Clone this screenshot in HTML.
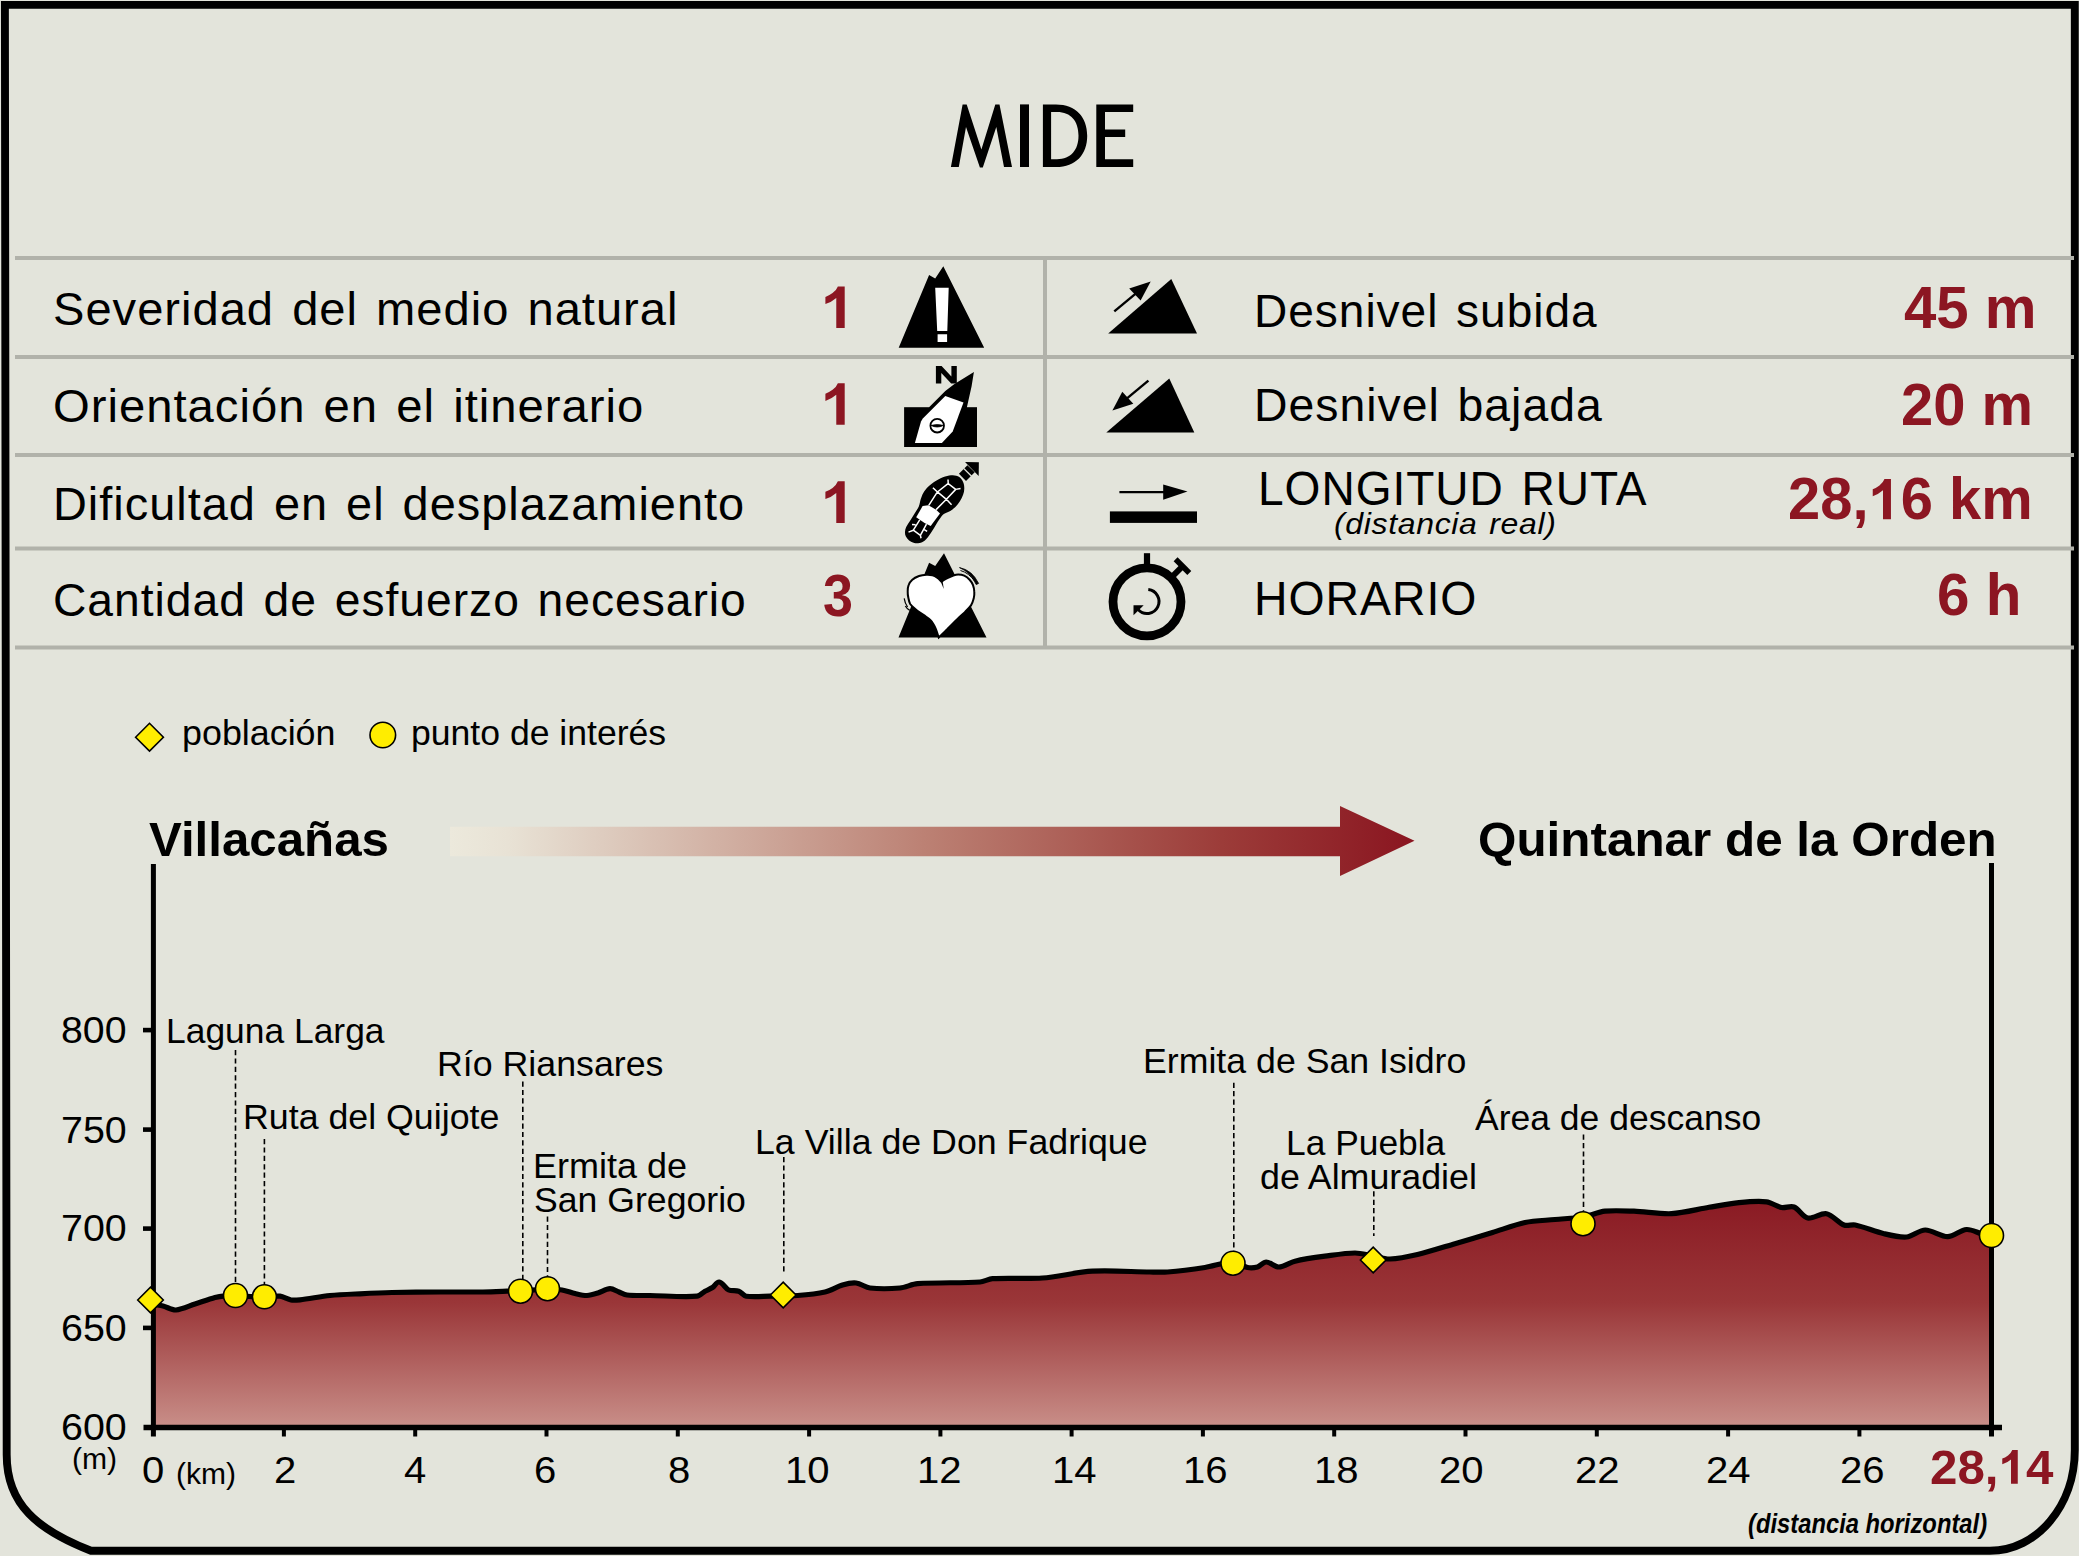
<!DOCTYPE html>
<html lang="es">
<head>
<meta charset="utf-8">
<title>MIDE</title>
<style>
html,body{margin:0;padding:0;}
body{width:2079px;height:1556px;overflow:hidden;background:#e3e4db;font-family:"Liberation Sans",sans-serif;color:#000;position:relative;}
#g{position:absolute;left:0;top:0;width:2079px;height:1556px;}
.t{position:absolute;white-space:nowrap;line-height:1;transform-origin:0 100%;}
</style>
</head>
<body>
<svg id="g" width="2079" height="1556" viewBox="0 0 2079 1556">
<defs>
<linearGradient id="gf" x1="0" y1="1200" x2="0" y2="1428" gradientUnits="userSpaceOnUse">
<stop offset="0" stop-color="#8a1a23"/>
<stop offset="0.45" stop-color="#9a3638"/>
<stop offset="1" stop-color="#c98f89"/>
</linearGradient>
<linearGradient id="ga" x1="450" y1="0" x2="1415" y2="0" gradientUnits="userSpaceOnUse">
<stop offset="0" stop-color="#ece9dc"/>
<stop offset="0.06" stop-color="#e8e2d5"/>
<stop offset="0.5" stop-color="#bb7f72"/>
<stop offset="0.8" stop-color="#9c3c39"/>
<stop offset="1" stop-color="#8a1520"/>
</linearGradient>
</defs>
<!-- FRAME -->
<path id="frame" d="M4.9,4.9 H2074.8 V1450 C2074.8,1505.7 2037,1550.8 1990,1550.8 H91 C38,1530 6.7,1505 6.7,1455 Z" fill="none" stroke="#000" stroke-width="7.9" stroke-linejoin="miter"/>
<!-- TABLE LINES -->
<g id="tlines" fill="#b1b2aa">
<rect x="15" y="256" width="2059" height="4"/>
<rect x="15" y="355" width="2059" height="4"/>
<rect x="15" y="453" width="2059" height="4"/>
<rect x="15" y="546.5" width="2059" height="4"/>
<rect x="15" y="645.5" width="2059" height="4"/>
<rect x="1043" y="258" width="4" height="390"/>
</g>
<!-- TITLE -->
<g id="title" fill="#000">
<path d="M950.9,167 L962.6,104.4 L966.7,104.4 L981.4,149.6 L995.3,104.4 L999.5,104.4 L1012,167 L1004,167 L996.3,127 L982.8,167.4 L979.9,167.4 L966,127 L958.8,167 Z"/>
<rect x="1020" y="104.4" width="9" height="62.6"/>
<path fill-rule="evenodd" d="M1042.9,104.4 H1056 C1076,104.4 1087.2,117 1087.2,135.7 C1087.2,154.4 1076,167 1056,167 H1042.9 Z M1051.1,111.9 V159.3 H1057 C1071,159.3 1078.5,150 1078.5,135.6 C1078.5,121.2 1071,111.9 1057,111.9 Z"/>
<path d="M1096.3,104.4 H1133.2 V111.9 H1105 V129.4 H1125.2 V136.9 H1105 V159.3 H1133.2 V167 H1096.3 Z"/>
</g>
<!-- ICONS -->
<g id="icons">
<path fill="#8c1622" d="M844.70,328.00 L836.28,328.00 L836.28,298.07 Q831.66,302.14 825.40,304.09 L825.40,296.88 Q828.70,295.87 832.56,293.03 Q836.43,290.19 837.87,286.40 L844.70,286.40 Z"/>
<path fill="#8c1622" d="M844.70,424.80 L836.28,424.80 L836.28,394.87 Q831.66,398.94 825.40,400.89 L825.40,393.68 Q828.70,392.67 832.56,389.83 Q836.43,386.99 837.87,383.20 L844.70,383.20 Z"/>
<path fill="#8c1622" d="M844.70,522.90 L836.28,522.90 L836.28,492.97 Q831.66,497.04 825.40,498.99 L825.40,491.78 Q828.70,490.77 832.56,487.93 Q836.43,485.09 837.87,481.30 L844.70,481.30 Z"/>
<path d="M898.7,347.8 L929.1,275 L935.2,278.6 L943.3,266.2 L984.2,347.8 Z" fill="#000"/>
<path d="M935.2,287.8 H948.7 L947.3,331 H937.2 Z M937.6,334.3 H947.1 V342 H937.6 Z" fill="#fff"/>
<path d="M935.9,383.6 V366.1 H941.6 L951.4,376.6 V366.1 H956.8 V383.6 H951.2 L941.3,373 V383.6 Z" fill="#000"/>
<rect x="904.1" y="407.2" width="72.9" height="39.8" fill="#000"/>
<path d="M973.9,372.1 L954.1,384.3 L945.3,391 L929.1,407.2 L929.1,409 L966.9,409 L966.9,407.2 L971.6,386.3 Z" fill="#000"/>
<path d="M945.3,396 L963.5,402.5 L952.7,431.5 L941.9,443 L914.9,443 L921,421.4 L922.8,418.4 Z" fill="#fff"/>
<circle cx="937.2" cy="425.7" r="6.8" fill="#fff" stroke="#000" stroke-width="1.8"/>
<path d="M931,425.4 Q937.2,428.6 943.4,425.4 Q937.2,423.8 931,425.4 Z" fill="#000" stroke="#000" stroke-width="0.8"/>
<path d="M965.05,462.07 L978.87,462.20 L978.68,475.89 Z" fill="#000"/>
<path d="M958.95,473.64 L967.43,465.15 L974.69,472.35 L966.02,481.03 Z" fill="#000"/>
<path d="M963.64,468.37 L971.61,476.34" stroke="#e3e4db" stroke-width="1.4" fill="none"/>
<path d="M952.8,475.2 C955.2,475.3 957.5,475.7 959.3,476.9 C961.0,478.0 962.3,480.0 963.1,482.0 C964.0,484.0 964.3,486.2 964.3,488.4 C964.3,490.6 963.9,492.7 963.1,494.8 C962.4,497.0 961.2,499.2 959.9,501.3 C958.6,503.3 957.1,505.4 955.4,507.1 C953.8,508.7 952.2,509.7 950.3,510.9 C948.3,512.1 945.6,512.8 943.8,514.1 C942.1,515.4 941.3,516.9 940.0,518.6 C938.7,520.4 937.4,522.3 936.1,524.4 C934.8,526.5 933.6,528.8 932.3,530.8 C931.0,532.9 929.7,534.9 928.4,536.6 C927.1,538.3 926.1,539.7 924.6,540.8 C923.0,541.9 921.2,542.7 919.4,543.0 C917.7,543.4 916.0,543.5 914.3,543.0 C912.5,542.6 910.6,541.6 909.1,540.5 C907.7,539.4 906.6,538.0 905.9,536.6 C905.2,535.2 904.9,533.8 905.0,532.1 C905.0,530.5 905.4,528.8 906.2,527.0 C907.1,525.1 908.4,523.4 909.8,521.2 C911.1,519.0 912.8,516.6 914.3,514.1 C915.8,511.6 917.7,508.9 918.8,506.4 C919.9,503.9 919.9,501.6 920.7,499.3 C921.5,497.1 922.0,495.1 923.3,492.9 C924.6,490.7 926.2,488.6 928.4,486.5 C930.6,484.4 933.3,482.4 936.1,480.7 C939.0,479.0 942.3,477.5 945.1,476.5 C948.0,475.6 950.4,475.2 952.8,475.2 Z" fill="#000"/>
<path d="M922.63,506.09 L928.42,505.13 L936.13,509.63 L939.99,513.48 L930.67,526.02 L924.56,523.12 L916.21,517.34 Z" fill="#fff"/>
<path d="M928.74,505.45 L937.10,492.28 L948.02,483.60 M936.13,509.63 L946.41,499.34 L955.73,489.38 M932.92,487.78 L937.42,491.95 L946.41,499.34 L951.56,504.81 M948.02,479.42 L948.21,483.60 L955.73,489.38 L960.55,488.42 M919.74,519.91 L913.32,530.19 M926.49,524.09 L920.39,535.33 M908.50,532.12 L913.32,530.19 L920.39,535.33 L921.03,538.23 M912.03,524.41 L915.57,524.73 M924.24,529.55 L927.13,531.48" fill="none" stroke="#fff" stroke-width="1.5" stroke-linecap="butt" stroke-linejoin="round"/>
<path d="M898.5,637.6 L929.1,562.7 L935.2,566.1 L944,553.2 L986.5,637.6 Z" fill="#000"/>
<path d="M941.1,581.4 C940.5,580.8 938.7,578.7 937.2,577.7 C935.8,576.7 934.3,575.8 932.5,575.3 C930.7,574.8 928.7,574.5 926.4,574.7 C924.1,574.8 921.4,575.1 919.0,576.0 C916.6,576.9 914.0,578.2 912.3,579.7 C910.5,581.3 909.3,583.2 908.6,585.1 C907.8,587.1 907.7,589.0 907.7,591.2 C907.6,593.4 907.9,595.8 908.4,597.9 C908.8,600.1 909.1,602.2 910.2,604.0 C911.4,605.8 913.2,607.2 915.0,608.7 C916.7,610.2 918.5,611.5 920.4,612.8 C922.2,614.1 924.0,615.2 925.8,616.5 C927.5,617.8 929.2,618.9 930.5,620.2 C931.8,621.5 932.6,622.8 933.5,624.2 C934.4,625.7 935.0,626.7 935.9,629.0 C936.8,631.2 938.2,636.0 938.7,637.4  C940.2,636.0 944.2,632.1 947.4,629.0 C950.5,625.8 954.5,621.7 957.5,618.9 C960.5,616.0 962.6,614.4 964.9,612.1 C967.2,609.8 969.5,607.6 971.0,605.4 C972.5,603.1 973.1,600.9 973.7,598.6 C974.2,596.3 974.5,594.2 974.3,591.9 C974.2,589.6 973.8,587.2 973.0,585.1 C972.2,583.0 971.1,581.3 969.6,579.7 C968.1,578.1 966.2,576.6 964.2,575.7 C962.3,574.8 960.1,574.5 958.2,574.5 C956.2,574.5 954.6,575.1 952.8,575.7 C950.9,576.3 949.2,577.1 947.4,578.0 C945.5,579.0 943.0,580.7 942.1,581.2 Z" fill="#fff" stroke="#000" stroke-width="2" stroke-linejoin="miter"/>
<path d="M940.2,580.6 L942.6,581 L943.8,589 Z" fill="#000"/>
<path d="M938,636.5 L940,636.5 L938.6,639.2 Z" fill="#000"/>
<path d="M959.5,567.6 Q972,570 978.6,583.4 L976.2,584.6 Q971,572.5 959.5,567.6 Z" fill="#000" stroke="#000" stroke-width="0.8"/>
<path d="M960.5,570.5 Q969,573 974.5,581" fill="none" stroke="#000" stroke-width="1"/>
<path d="M904.2,598.4 Q904.8,603 907.6,607 M905.3,606 Q907,609 909.8,610.4" fill="none" stroke="#000" stroke-width="1.2"/>
<path d="M1108.2,333.4 L1171.3,279 L1197,333.4 Z" fill="#000"/>
<path d="M1114.3,311.4 L1136,293.4" stroke="#000" stroke-width="2.4" fill="none"/>
<path d="M1150.7,281.4 L1129.2,288.5 L1140.6,300.6 Z" fill="#000"/>
<path d="M1106.3,432.5 L1169.3,378.6 L1194.3,432.5 Z" fill="#000"/>
<path d="M1148.4,380.6 L1127,398.4" stroke="#000" stroke-width="2.4" fill="none"/>
<path d="M1112.4,410.6 L1122.3,391.7 L1133.3,403.8 Z" fill="#000"/>
<path d="M1119.4,492.1 H1165" stroke="#000" stroke-width="2.4" fill="none"/>
<path d="M1163.2,484.4 V499.7 L1187.5,491.6 Z" fill="#000"/>
<rect x="1109.9" y="511.4" width="87.1" height="11.5" fill="#000"/>
<circle cx="1147" cy="601.8" r="34" fill="none" stroke="#000" stroke-width="8.8"/>
<rect x="1143.9" y="553.2" width="6.2" height="13" fill="#000"/>
<path d="M1170.2,578.6 L1182.2,566.6" stroke="#000" stroke-width="5.8" fill="none"/>
<path d="M1175.6,559.2 L1189.3,572.9" stroke="#000" stroke-width="5.6" fill="none"/>
<path d="M1148.3,589.6 A12,12 0 1 1 1138.3,609.8" stroke="#000" stroke-width="3" fill="none"/>
<path d="M1133.5,605.2 V615.3 L1143.7,605.2 Z" fill="#000"/>
</g>
<!-- CHART -->
<g id="chart">
<path d="M450,826.7 H1340 V806 L1414.5,840.8 L1340,876 V856.2 H450 Z" fill="url(#ga)"/>
<path d="M154.0,1304.5 C156.7,1305.0 160.3,1305.3 163.0,1306.0 C167.0,1307.0 171.9,1310.3 176.0,1310.0 C182.0,1309.6 189.3,1305.8 195.0,1304.0 C201.0,1302.1 208.9,1299.2 215.0,1297.5 C217.9,1296.7 222.0,1296.1 225.0,1295.8 C228.0,1295.5 232.0,1295.4 235.0,1295.5 C239.5,1295.6 245.5,1296.3 250.0,1296.5 C254.2,1296.7 259.8,1297.0 264.0,1297.0 C268.8,1297.0 275.2,1295.7 280.0,1296.2 C283.5,1296.6 287.6,1299.4 291.0,1300.0 C293.7,1300.5 297.3,1300.1 300.0,1299.8 C309.0,1298.8 321.0,1296.4 330.0,1295.5 C339.0,1294.6 351.0,1294.2 360.0,1293.8 C369.6,1293.3 382.4,1292.7 392.0,1292.5 C406.4,1292.2 425.6,1292.1 440.0,1292.0 C452.0,1291.9 468.0,1292.1 480.0,1292.0 C488.1,1291.9 498.9,1291.4 507.0,1291.2 C510.9,1291.1 516.1,1291.2 520.0,1291.0 C528.1,1290.6 538.9,1289.2 547.0,1289.0 C551.5,1288.9 557.5,1289.3 562.0,1290.0 C566.0,1290.6 571.1,1292.6 575.0,1293.5 C578.6,1294.3 583.4,1295.6 587.0,1295.5 C590.4,1295.4 594.8,1294.0 598.0,1293.0 C601.7,1291.9 606.2,1288.9 610.0,1288.7 C612.9,1288.6 616.3,1291.0 619.0,1292.0 C621.4,1292.9 624.5,1294.7 627.0,1295.0 C633.9,1295.8 643.1,1295.4 650.0,1295.5 C664.1,1295.7 682.9,1297.3 697.0,1296.2 C699.8,1296.0 702.5,1292.6 705.0,1291.2 C707.2,1290.0 710.4,1288.9 712.5,1287.5 C714.7,1286.1 716.6,1281.6 719.2,1282.0 C722.9,1282.6 725.3,1288.4 728.7,1290.0 C731.4,1291.3 735.9,1290.2 738.7,1291.2 C741.2,1292.1 743.5,1295.8 746.2,1296.2 C753.3,1297.3 762.9,1296.3 770.0,1296.2 C778.3,1296.1 789.3,1296.1 797.5,1295.5 C805.8,1294.9 816.9,1293.9 825.0,1292.0 C830.5,1290.7 837.1,1286.6 842.5,1285.0 C846.5,1283.8 852.1,1282.5 856.2,1283.0 C860.6,1283.5 865.6,1287.5 870.0,1288.0 C878.9,1289.0 891.0,1288.8 900.0,1288.0 C905.4,1287.5 912.1,1284.1 917.5,1283.7 C936.2,1282.3 961.3,1283.2 980.0,1282.0 C983.9,1281.7 988.6,1278.9 992.5,1278.7 C1007.5,1277.7 1027.5,1279.1 1042.5,1278.0 C1057.6,1276.9 1077.4,1272.0 1092.5,1271.2 C1109.7,1270.2 1132.7,1271.8 1150.0,1272.0 C1155.2,1272.1 1162.3,1272.4 1167.5,1272.0 C1178.8,1271.1 1193.8,1269.2 1205.0,1267.5 C1213.5,1266.2 1224.4,1262.0 1233.0,1262.0 C1237.7,1262.0 1242.9,1266.6 1247.5,1267.5 C1250.4,1268.1 1254.6,1267.8 1257.5,1267.0 C1260.4,1266.2 1263.2,1262.0 1266.2,1262.0 C1270.2,1262.0 1274.7,1267.1 1278.7,1267.0 C1283.9,1266.9 1289.9,1262.4 1295.0,1261.2 C1303.9,1259.1 1316.0,1257.4 1325.0,1256.2 C1334.0,1255.0 1345.9,1253.0 1355.0,1253.0 C1360.5,1253.0 1367.6,1255.1 1373.0,1256.0 C1378.1,1256.9 1384.8,1259.2 1390.0,1259.0 C1398.4,1258.7 1409.4,1256.4 1417.5,1254.5 C1428.9,1251.8 1443.8,1247.0 1455.0,1243.7 C1466.3,1240.4 1481.3,1235.9 1492.5,1232.5 C1502.3,1229.5 1515.0,1224.6 1525.0,1222.5 C1533.9,1220.7 1546.0,1220.4 1555.0,1219.5 C1563.4,1218.7 1574.7,1218.4 1583.0,1217.0 C1589.7,1215.9 1598.2,1212.0 1605.0,1211.2 C1613.6,1210.2 1625.3,1210.9 1634.0,1211.2 C1645.3,1211.6 1660.2,1214.3 1671.5,1213.7 C1682.9,1213.1 1697.7,1209.2 1709.0,1207.3 C1718.0,1205.8 1729.9,1203.5 1739.0,1202.6 C1747.2,1201.8 1758.3,1200.9 1766.5,1201.8 C1771.3,1202.4 1776.8,1206.6 1781.5,1207.5 C1785.2,1208.2 1790.5,1205.6 1794.0,1207.0 C1798.9,1209.0 1802.5,1216.9 1807.7,1218.0 C1813.4,1219.2 1820.8,1212.6 1826.5,1213.7 C1832.6,1214.9 1838.2,1222.7 1844.0,1225.0 C1847.1,1226.2 1851.9,1224.3 1855.2,1225.0 C1864.0,1226.9 1875.2,1231.6 1884.0,1233.7 C1890.6,1235.3 1899.7,1237.6 1906.5,1237.0 C1912.5,1236.5 1919.2,1230.0 1925.2,1230.0 C1932.2,1229.9 1940.7,1236.8 1947.7,1236.7 C1953.7,1236.6 1960.5,1230.0 1966.5,1229.5 C1971.2,1229.1 1977.0,1232.5 1981.5,1233.7 C1984.5,1234.5 1988.5,1235.3 1991.5,1236.0 L1991.5,1427.5 L153.4,1427.5 Z" fill="url(#gf)"/>
<path d="M154.0,1304.5 C156.7,1305.0 160.3,1305.3 163.0,1306.0 C167.0,1307.0 171.9,1310.3 176.0,1310.0 C182.0,1309.6 189.3,1305.8 195.0,1304.0 C201.0,1302.1 208.9,1299.2 215.0,1297.5 C217.9,1296.7 222.0,1296.1 225.0,1295.8 C228.0,1295.5 232.0,1295.4 235.0,1295.5 C239.5,1295.6 245.5,1296.3 250.0,1296.5 C254.2,1296.7 259.8,1297.0 264.0,1297.0 C268.8,1297.0 275.2,1295.7 280.0,1296.2 C283.5,1296.6 287.6,1299.4 291.0,1300.0 C293.7,1300.5 297.3,1300.1 300.0,1299.8 C309.0,1298.8 321.0,1296.4 330.0,1295.5 C339.0,1294.6 351.0,1294.2 360.0,1293.8 C369.6,1293.3 382.4,1292.7 392.0,1292.5 C406.4,1292.2 425.6,1292.1 440.0,1292.0 C452.0,1291.9 468.0,1292.1 480.0,1292.0 C488.1,1291.9 498.9,1291.4 507.0,1291.2 C510.9,1291.1 516.1,1291.2 520.0,1291.0 C528.1,1290.6 538.9,1289.2 547.0,1289.0 C551.5,1288.9 557.5,1289.3 562.0,1290.0 C566.0,1290.6 571.1,1292.6 575.0,1293.5 C578.6,1294.3 583.4,1295.6 587.0,1295.5 C590.4,1295.4 594.8,1294.0 598.0,1293.0 C601.7,1291.9 606.2,1288.9 610.0,1288.7 C612.9,1288.6 616.3,1291.0 619.0,1292.0 C621.4,1292.9 624.5,1294.7 627.0,1295.0 C633.9,1295.8 643.1,1295.4 650.0,1295.5 C664.1,1295.7 682.9,1297.3 697.0,1296.2 C699.8,1296.0 702.5,1292.6 705.0,1291.2 C707.2,1290.0 710.4,1288.9 712.5,1287.5 C714.7,1286.1 716.6,1281.6 719.2,1282.0 C722.9,1282.6 725.3,1288.4 728.7,1290.0 C731.4,1291.3 735.9,1290.2 738.7,1291.2 C741.2,1292.1 743.5,1295.8 746.2,1296.2 C753.3,1297.3 762.9,1296.3 770.0,1296.2 C778.3,1296.1 789.3,1296.1 797.5,1295.5 C805.8,1294.9 816.9,1293.9 825.0,1292.0 C830.5,1290.7 837.1,1286.6 842.5,1285.0 C846.5,1283.8 852.1,1282.5 856.2,1283.0 C860.6,1283.5 865.6,1287.5 870.0,1288.0 C878.9,1289.0 891.0,1288.8 900.0,1288.0 C905.4,1287.5 912.1,1284.1 917.5,1283.7 C936.2,1282.3 961.3,1283.2 980.0,1282.0 C983.9,1281.7 988.6,1278.9 992.5,1278.7 C1007.5,1277.7 1027.5,1279.1 1042.5,1278.0 C1057.6,1276.9 1077.4,1272.0 1092.5,1271.2 C1109.7,1270.2 1132.7,1271.8 1150.0,1272.0 C1155.2,1272.1 1162.3,1272.4 1167.5,1272.0 C1178.8,1271.1 1193.8,1269.2 1205.0,1267.5 C1213.5,1266.2 1224.4,1262.0 1233.0,1262.0 C1237.7,1262.0 1242.9,1266.6 1247.5,1267.5 C1250.4,1268.1 1254.6,1267.8 1257.5,1267.0 C1260.4,1266.2 1263.2,1262.0 1266.2,1262.0 C1270.2,1262.0 1274.7,1267.1 1278.7,1267.0 C1283.9,1266.9 1289.9,1262.4 1295.0,1261.2 C1303.9,1259.1 1316.0,1257.4 1325.0,1256.2 C1334.0,1255.0 1345.9,1253.0 1355.0,1253.0 C1360.5,1253.0 1367.6,1255.1 1373.0,1256.0 C1378.1,1256.9 1384.8,1259.2 1390.0,1259.0 C1398.4,1258.7 1409.4,1256.4 1417.5,1254.5 C1428.9,1251.8 1443.8,1247.0 1455.0,1243.7 C1466.3,1240.4 1481.3,1235.9 1492.5,1232.5 C1502.3,1229.5 1515.0,1224.6 1525.0,1222.5 C1533.9,1220.7 1546.0,1220.4 1555.0,1219.5 C1563.4,1218.7 1574.7,1218.4 1583.0,1217.0 C1589.7,1215.9 1598.2,1212.0 1605.0,1211.2 C1613.6,1210.2 1625.3,1210.9 1634.0,1211.2 C1645.3,1211.6 1660.2,1214.3 1671.5,1213.7 C1682.9,1213.1 1697.7,1209.2 1709.0,1207.3 C1718.0,1205.8 1729.9,1203.5 1739.0,1202.6 C1747.2,1201.8 1758.3,1200.9 1766.5,1201.8 C1771.3,1202.4 1776.8,1206.6 1781.5,1207.5 C1785.2,1208.2 1790.5,1205.6 1794.0,1207.0 C1798.9,1209.0 1802.5,1216.9 1807.7,1218.0 C1813.4,1219.2 1820.8,1212.6 1826.5,1213.7 C1832.6,1214.9 1838.2,1222.7 1844.0,1225.0 C1847.1,1226.2 1851.9,1224.3 1855.2,1225.0 C1864.0,1226.9 1875.2,1231.6 1884.0,1233.7 C1890.6,1235.3 1899.7,1237.6 1906.5,1237.0 C1912.5,1236.5 1919.2,1230.0 1925.2,1230.0 C1932.2,1229.9 1940.7,1236.8 1947.7,1236.7 C1953.7,1236.6 1960.5,1230.0 1966.5,1229.5 C1971.2,1229.1 1977.0,1232.5 1981.5,1233.7 C1984.5,1234.5 1988.5,1235.3 1991.5,1236.0" fill="none" stroke="#000" stroke-width="5.2" stroke-linejoin="round" stroke-linecap="butt"/>
<g stroke="#000" fill="none">
<path d="M153.4,864 V1436.5" stroke-width="5"/>
<path d="M1991.5,863 V1436.5" stroke-width="5"/>
<path d="M143.5,1427.5 H2002" stroke-width="5.6"/>
<path d="M143,1030.1 H153.4" stroke-width="4.6"/>
<path d="M143,1129.6 H153.4" stroke-width="4.6"/>
<path d="M143,1228.6 H153.4" stroke-width="4.6"/>
<path d="M143,1327.9 H153.4" stroke-width="4.6"/>
<path d="M283.9,1427.5 V1436.5" stroke-width="4"/>
<path d="M415.2,1427.5 V1436.5" stroke-width="4"/>
<path d="M546.5,1427.5 V1436.5" stroke-width="4"/>
<path d="M677.8,1427.5 V1436.5" stroke-width="4"/>
<path d="M809.1,1427.5 V1436.5" stroke-width="4"/>
<path d="M940.4,1427.5 V1436.5" stroke-width="4"/>
<path d="M1071.6,1427.5 V1436.5" stroke-width="4"/>
<path d="M1202.9,1427.5 V1436.5" stroke-width="4"/>
<path d="M1334.2,1427.5 V1436.5" stroke-width="4"/>
<path d="M1465.5,1427.5 V1436.5" stroke-width="4"/>
<path d="M1596.8,1427.5 V1436.5" stroke-width="4"/>
<path d="M1728.1,1427.5 V1436.5" stroke-width="4"/>
<path d="M1859.4,1427.5 V1436.5" stroke-width="4"/>
</g>
<g stroke="#000" stroke-width="1.6" stroke-dasharray="5.2 3.2" fill="none">
<path d="M235.5,1050 V1284"/>
<path d="M264.4,1139 V1285"/>
<path d="M522.8,1081.5 V1279"/>
<path d="M547.5,1216.5 V1277"/>
<path d="M783.8,1157 V1274.5"/>
<path d="M1233.8,1082.7 V1251"/>
<path d="M1373.8,1191.3 V1236"/>
<path d="M1583.5,1134.6 V1211"/>
</g>
<g fill="#ffed00" stroke="#000" stroke-width="1.6">
<circle cx="235.5" cy="1295.5" r="12.0"/>
<circle cx="264.4" cy="1296.8" r="12.0"/>
<circle cx="520.5" cy="1291.2" r="12.0"/>
<circle cx="547.5" cy="1288.7" r="12.0"/>
<circle cx="1233" cy="1263.2" r="12.0"/>
<circle cx="1583" cy="1223.7" r="12.0"/>
<circle cx="1991.5" cy="1235.5" r="12.0"/>
<path d="M137.7,1300 L150.5,1287.2 L163.3,1300 L150.5,1312.8 Z"/>
<path d="M770.4000000000001,1295 L783.2,1282.2 L796.0,1295 L783.2,1307.8 Z"/>
<path d="M1360.4,1260 L1373.2,1247.2 L1386.0,1260 L1373.2,1272.8 Z"/>
<path d="M135.6,737.2 L149.5,723.3 L163.4,737.2 L149.5,751.1 Z"/>
<circle cx="382.8" cy="735" r="12.8"/>
</g>
</g>
</svg>
<div class="t" id="l1" style="left:53.12px;top:285px;font-size:47px;letter-spacing:1.0px;word-spacing:4px;transform:scaleX(1.0019);">Severidad del medio natural</div>
<div class="t" id="l2" style="left:52.69px;top:382px;font-size:47px;letter-spacing:1.0px;word-spacing:4px;transform:scaleX(1.0044);">Orientación en el itinerario</div>
<div class="t" id="l3" style="left:52.70px;top:480px;font-size:47px;letter-spacing:1.0px;word-spacing:4px;transform:scaleX(0.9979);">Dificultad en el desplazamiento</div>
<div class="t" id="l4" style="left:53.09px;top:576px;font-size:47px;letter-spacing:1.0px;word-spacing:4px;transform:scaleX(0.9832);">Cantidad de esfuerzo necesario</div>
<div class="t" id="r1" style="left:1254.27px;top:287px;font-size:47px;letter-spacing:1.0px;word-spacing:4px;transform:scaleX(0.9796);">Desnivel subida</div>
<div class="t" id="r2" style="left:1254.24px;top:381px;font-size:47px;letter-spacing:1.0px;word-spacing:4px;transform:scaleX(0.9866);">Desnivel bajada</div>
<div class="t" id="r3" style="left:1258.28px;top:465px;font-size:47.5px;letter-spacing:1.0px;word-spacing:4px;transform:scaleX(0.9699);">LONGITUD RUTA</div>
<div class="t" id="r3b" style="left:1333.94px;top:510px;font-size:29px;font-style:italic;letter-spacing:0.6px;word-spacing:2px;transform:scaleX(1.1031);">(distancia real)</div>
<div class="t" id="r4" style="left:1254.26px;top:575px;font-size:47.5px;letter-spacing:1.0px;word-spacing:4px;transform:scaleX(0.9768);">HORARIO</div>
<div class="t" id="n4" style="left:823.02px;top:567px;font-size:58.5px;font-weight:bold;color:#8c1622;transform:scaleX(0.9215);">3</div>
<div class="t" id="v1" style="left:1904.21px;top:279px;font-size:58.5px;font-weight:bold;color:#8c1622;transform:scaleX(0.9943);">45 m</div>
<div class="t" id="v2" style="left:1901.38px;top:376px;font-size:58.5px;font-weight:bold;color:#8c1622;transform:scaleX(0.9907);">20 m</div>
<div class="t" id="v3" style="left:1787.88px;top:470px;font-size:58.5px;font-weight:bold;color:#8c1622;transform:scaleX(0.9897);">28,<svg viewBox="0 0 1139 1472" preserveAspectRatio="none" style="width:0.556em;height:0.689em;vertical-align:baseline;overflow:visible"><path fill="currentColor" d="M806,1472 L525,1472 L525,413 Q371,557 162,626 L162,371 Q272,335 401,234.5 Q530,134 578,0 L806,0 Z"/></svg>6 km</div>
<div class="t" id="v4" style="left:1936.83px;top:566px;font-size:58.5px;font-weight:bold;color:#8c1622;transform:scaleX(0.9979);">6 h</div>
<div class="t" id="lg1" style="left:182.26px;top:716px;font-size:34.5px;transform:scaleX(1.0392);">población</div>
<div class="t" id="lg2" style="left:411.07px;top:716px;font-size:34.5px;transform:scaleX(1.0312);">punto de interés</div>
<div class="t" id="h1" style="left:148.55px;top:816px;font-size:47.3px;font-weight:bold;transform:scaleX(1.0407);">Villacañas</div>
<div class="t" id="h2" style="left:1478.37px;top:816px;font-size:47.3px;font-weight:bold;transform:scaleX(1.0443);">Quintanar de la Orden</div>
<div class="t" id="c1" style="left:165.63px;top:1014px;font-size:34.5px;transform:scaleX(1.0262);">Laguna Larga</div>
<div class="t" id="c2" style="left:243.11px;top:1100px;font-size:34.5px;transform:scaleX(1.0361);">Ruta del Quijote</div>
<div class="t" id="c3" style="left:437.21px;top:1047px;font-size:34.5px;transform:scaleX(1.0357);">Río Riansares</div>
<div class="t" id="c4" style="left:532.99px;top:1149px;font-size:34.5px;transform:scaleX(1.0426);">Ermita de</div>
<div class="t" id="c5" style="left:534.13px;top:1183px;font-size:34.5px;transform:scaleX(1.0325);">San Gregorio</div>
<div class="t" id="c6" style="left:755.41px;top:1125px;font-size:34.5px;transform:scaleX(1.0355);">La Villa de Don Fadrique</div>
<div class="t" id="c7" style="left:1143.01px;top:1044px;font-size:34.5px;transform:scaleX(1.0345);">Ermita de San Isidro</div>
<div class="t" id="c8" style="left:1286.14px;top:1126px;font-size:34.5px;transform:scaleX(1.0247);">La Puebla</div>
<div class="t" id="c9" style="left:1259.75px;top:1160px;font-size:34.5px;transform:scaleX(1.0373);">de Almuradiel</div>
<div class="t" id="c10" style="left:1475.17px;top:1101px;font-size:34.5px;transform:scaleX(1.0288);">Área de descanso</div>
<div class="t" id="y800" style="left:61.14px;top:1012px;font-size:37.6px;transform:scaleX(1.0451);">800</div>
<div class="t" id="y750" style="left:60.96px;top:1112px;font-size:37.6px;transform:scaleX(1.0481);">750</div>
<div class="t" id="y700" style="left:60.96px;top:1210px;font-size:37.6px;transform:scaleX(1.0481);">700</div>
<div class="t" id="y650" style="left:60.96px;top:1310px;font-size:37.6px;transform:scaleX(1.0481);">650</div>
<div class="t" id="y600" style="left:60.96px;top:1409px;font-size:37.6px;transform:scaleX(1.0481);">600</div>
<div class="t" id="um" style="left:72.26px;top:1444px;font-size:29.5px;transform:scaleX(1.0211);">(m)</div>
<div class="t" id="ukm" style="left:176.17px;top:1459px;font-size:29.5px;transform:scaleX(1.0174);">(km)</div>
<div class="t" id="x0" style="left:141.80px;top:1452px;font-size:37.6px;transform:scaleX(1.0650);">0</div>
<div class="t" id="x2" style="left:273.81px;top:1452px;font-size:37.6px;transform:scaleX(1.0650);">2</div>
<div class="t" id="x4" style="left:404.02px;top:1452px;font-size:37.6px;transform:scaleX(1.0650);">4</div>
<div class="t" id="x6" style="left:533.92px;top:1452px;font-size:37.6px;transform:scaleX(1.0650);">6</div>
<div class="t" id="x8" style="left:668.09px;top:1452px;font-size:37.6px;transform:scaleX(1.0650);">8</div>
<div class="t" id="x10" style="left:785.14px;top:1452px;font-size:37.6px;transform:scaleX(1.0650);">10</div>
<div class="t" id="x12" style="left:917.11px;top:1452px;font-size:37.6px;transform:scaleX(1.0650);">12</div>
<div class="t" id="x14" style="left:1051.77px;top:1452px;font-size:37.6px;transform:scaleX(1.0650);">14</div>
<div class="t" id="x16" style="left:1182.53px;top:1452px;font-size:37.6px;transform:scaleX(1.0650);">16</div>
<div class="t" id="x18" style="left:1314.01px;top:1452px;font-size:37.6px;transform:scaleX(1.0650);">18</div>
<div class="t" id="x20" style="left:1439.26px;top:1452px;font-size:37.6px;transform:scaleX(1.0650);">20</div>
<div class="t" id="x22" style="left:1575.13px;top:1452px;font-size:37.6px;transform:scaleX(1.0650);">22</div>
<div class="t" id="x24" style="left:1705.79px;top:1452px;font-size:37.6px;transform:scaleX(1.0650);">24</div>
<div class="t" id="x26" style="left:1839.75px;top:1452px;font-size:37.6px;transform:scaleX(1.0650);">26</div>
<div class="t" id="xe" style="left:1929.58px;top:1443px;font-size:49px;font-weight:bold;color:#8c1622;transform:scaleX(1.0056);">28,<svg viewBox="0 0 1139 1472" preserveAspectRatio="none" style="width:0.556em;height:0.689em;vertical-align:baseline;overflow:visible"><path fill="currentColor" d="M806,1472 L525,1472 L525,413 Q371,557 162,626 L162,371 Q272,335 401,234.5 Q530,134 578,0 L806,0 Z"/></svg>4</div>
<div class="t" id="dh" style="left:1748.13px;top:1510px;font-size:28px;font-weight:bold;font-style:italic;transform:scaleX(0.8490);">(distancia horizontal)</div>
</body>
</html>
